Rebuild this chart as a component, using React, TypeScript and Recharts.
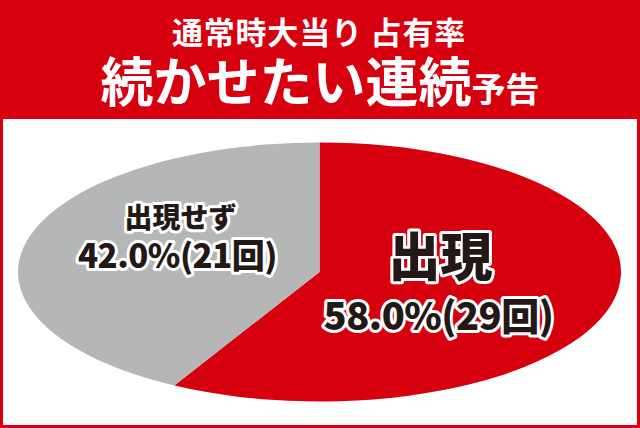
import React from "react";
import { PieChart, Pie, Cell } from "recharts";

const categories = ["出現", "出現せず"];
const counts = [29, 21];
const percents = ["58.0%", "42.0%"];
const colors = ["#d7000f", "#b5b6b6"];

const data = categories.map((name, i) => ({ name, value: counts[i], pct: percents[i] }));

const FONT = '"Noto Sans CJK JP", "Noto Sans", sans-serif';
const RED = "#d7000f";
// vertical squash of the pie (ellipse ry / rx)
const SQUASH = 129.5 / 301.5;

const RAD = Math.PI / 180;

// draws the slice as an elliptical sector using the angles Recharts computed
const EllipseSector = (props: any) => {
  const { cx, cy, outerRadius, startAngle, endAngle, fill } = props;
  const rx = outerRadius;
  const ry = outerRadius * SQUASH;
  const x1 = cx + rx * Math.cos(-startAngle * RAD);
  const y1 = cy + ry * Math.sin(-startAngle * RAD);
  const x2 = cx + rx * Math.cos(-endAngle * RAD);
  const y2 = cy + ry * Math.sin(-endAngle * RAD);
  const large = Math.abs(endAngle - startAngle) > 180 ? 1 : 0;
  const sweep = startAngle > endAngle ? 1 : 0;
  const d = `M${cx},${cy} L${x1},${y1} A${rx},${ry} 0 ${large} ${sweep} ${x2},${y2} Z`;
  return <path d={d} fill={fill} stroke="none" />;
};

const outline = {
  stroke: "#fff",
  strokeWidth: 6,
  strokeLinejoin: "round" as const,
  paintOrder: "stroke" as const,
  fill: "#231815",
  fontFamily: FONT,
  fontWeight: 900,
  textAnchor: "middle" as const,
};

const renderLabel = (props: any) => {
  const { cx, cy, index, payload } = props;
  const row = payload && payload.name ? payload : data[index];
  if (index === 0) {
    return (
      <text {...outline}>
        <tspan x={cx + 121} y={cy + 4} fontSize={52}>{row.name}</tspan>
        <tspan x={cx + 119} y={cy + 58} fontSize={38} letterSpacing={-0.5}>{`${row.pct}(${row.value}回)`}</tspan>
      </text>
    );
  }
  return (
    <text {...outline}>
      <tspan x={cx - 139} y={cy - 44} fontSize={28}>{row.name}</tspan>
      <tspan x={cx - 142} y={cy - 4} fontSize={33} letterSpacing={-0.5}>{`${row.pct}(${row.value}回)`}</tspan>
    </text>
  );
};

export default function App() {
  return (
    <div style={{ position: "fixed", left: 0, top: 0, width: 640, height: 428, background: RED, overflow: "hidden" }}>
      <div style={{ position: "absolute", left: 3, top: 119, width: 634, height: 306, background: "#fff" }} />
      <svg width={640} height={119} style={{ position: "absolute", left: 0, top: 0 }}>
        <text textAnchor="middle" fill="#fff" fontFamily={FONT} fontWeight={700}>
          <tspan x={319} y={44} fontSize={31} letterSpacing={0.8}>通常時大当り 占有率</tspan>
          <tspan x={320} y={102} fontSize={53}>続かせたい連続</tspan>
          <tspan fontSize={34}>予告</tspan>
        </text>
      </svg>
      <div style={{ position: "absolute", left: 0, top: 0 }}>
        <PieChart width={640} height={428} margin={{ top: 0, right: 0, bottom: 0, left: 0 }}>
          <Pie
            data={data}
            dataKey="value"
            nameKey="name"
            cx={319.5}
            cy={272}
            outerRadius={301.5}
            startAngle={90}
            endAngle={-270}
            stroke="none"
            shape={EllipseSector}
            label={renderLabel}
            labelLine={false}
            isAnimationActive={false}
          >
            {data.map((d, i) => (
              <Cell key={d.name} fill={colors[i]} />
            ))}
          </Pie>
        </PieChart>
      </div>
    </div>
  );
}
